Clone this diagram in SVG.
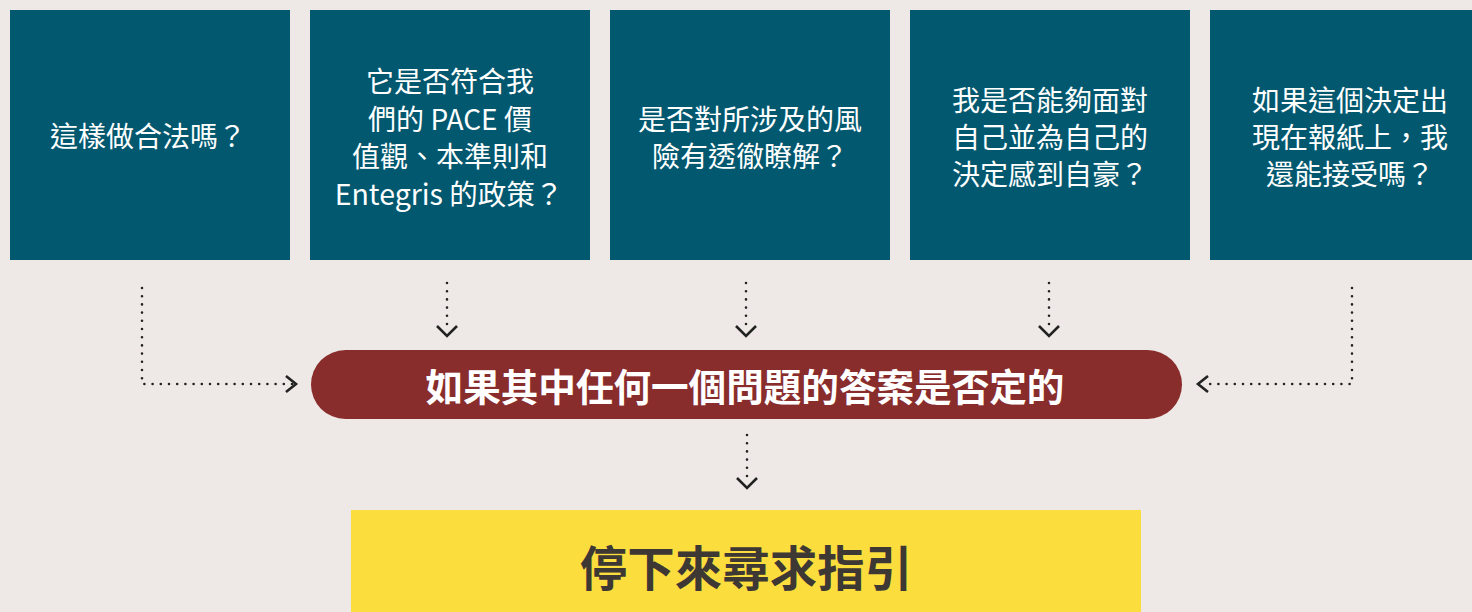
<svg xmlns="http://www.w3.org/2000/svg" width="1472" height="612" viewBox="0 0 1472 612">
<style>
.q{fill:#02586F}
.qt{fill:#fff;font-family:"Noto Sans CJK TC","Noto Sans",sans-serif;font-size:28px;text-anchor:middle;dominant-baseline:central}
.dot{fill:none;stroke:#222;stroke-width:2.6;stroke-linecap:round;stroke-dasharray:0 8.2}
.hd{fill:none;stroke:#222;stroke-width:2.6;stroke-linecap:butt;stroke-linejoin:miter}
</style>
<rect width="1472" height="612" fill="#EEE9E6"/>
<g id="q1"><rect class="q" x="10" y="10" width="280" height="250"/><text class="qt" x="148" y="135">這樣做合法嗎？</text></g>
<g id="q2"><rect class="q" x="310" y="10" width="280" height="250"/>
<text class="qt" x="450" y="80">它是否符合我</text>
<text class="qt" x="450" y="118">們的 PACE 價</text>
<text class="qt" x="450" y="155">值觀、本準則和</text>
<text class="qt" x="449" y="192" style="font-size:28.5px">Entegris 的政策？</text></g>
<g id="q3"><rect class="q" x="610" y="10" width="280" height="250"/>
<text class="qt" x="750" y="118">是否對所涉及的風</text>
<text class="qt" x="750" y="155">險有透徹瞭解？</text></g>
<g id="q4"><rect class="q" x="910" y="10" width="280" height="250"/>
<text class="qt" x="1050" y="99">我是否能夠面對</text>
<text class="qt" x="1050" y="136">自己並為自己的</text>
<text class="qt" x="1050" y="173">決定感到自豪？</text></g>
<g id="q5"><rect class="q" x="1210" y="10" width="280" height="250"/>
<text class="qt" x="1350" y="99">如果這個決定出</text>
<text class="qt" x="1350" y="136">現在報紙上，我</text>
<text class="qt" x="1350" y="173">還能接受嗎？</text></g>
<g id="cond"><rect x="311" y="350" width="871" height="69" rx="34.5" fill="#892C2C"/>
<text x="745" y="384" fill="#fff" font-family="Noto Sans CJK TC, Noto Sans, sans-serif" font-size="37.6" font-weight="bold" text-anchor="middle" dominant-baseline="central">如果其中任何一個問題的答案是否定的</text></g>
<g id="stop"><rect x="351" y="510" width="790" height="110" fill="#FCDD3E"/>
<text x="746" y="565" fill="#3D3833" font-family="Noto Sans CJK TC, Noto Sans, sans-serif" font-size="47.5" font-weight="bold" text-anchor="middle" dominant-baseline="central">停下來尋求指引</text></g>
<g id="connectors">
<path class="dot" d="M142,288 V384 H292"/>
<path class="hd" d="M286,376 L296,384 L286,392"/>
<path class="dot" d="M1352,288 V384 H1203"/>
<path class="hd" d="M1208,376 L1198,384 L1208,392"/>
<path class="dot" d="M447,283 V331"/>
<path class="hd" d="M437,326 L447,336 L457,326"/>
<path class="dot" d="M746,283 V331"/>
<path class="hd" d="M736,326 L746,336 L756,326"/>
<path class="dot" d="M1049,283 V331"/>
<path class="hd" d="M1039,326 L1049,336 L1059,326"/>
<path class="dot" d="M747,435 V483"/>
<path class="hd" d="M737,478 L747,488 L757,478"/>
</g>
</svg>
